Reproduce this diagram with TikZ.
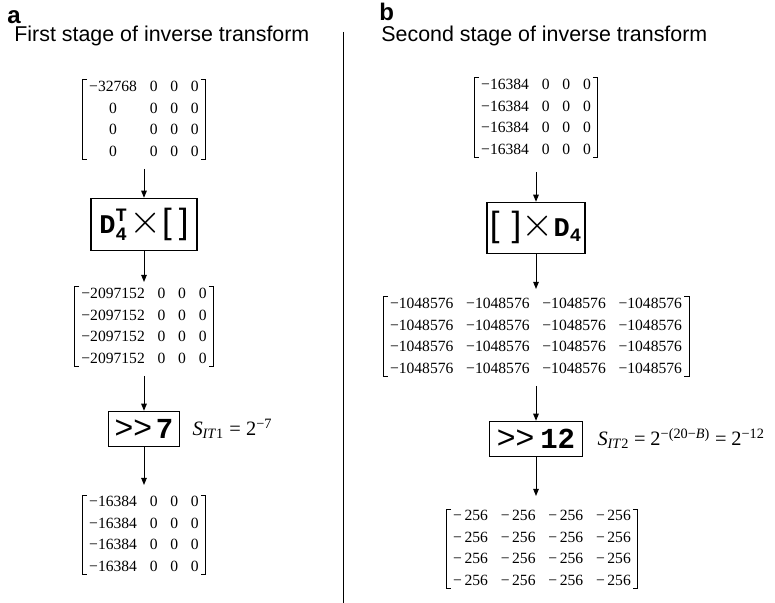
\documentclass[tikz,border=0pt]{standalone}
\usepackage{amsmath}
\usepackage{fontspec}
\setmainfont{Liberation Serif}
\setsansfont{Liberation Sans}
\setmonofont{Liberation Mono}
\usepackage{tikz}
\usetikzlibrary{positioning, arrows.meta}
\setlength{\tabcolsep}{3.2pt}
\newcommand{\mb}[1]{\text{\ttfamily\bfseries #1}}
\newcommand{\brackets}[1]{%
  \draw[brk] ([xshift=2.5pt]#1.north west) -| (#1.south west) -- ++(2.5pt,0pt);
  \draw[brk] ([xshift=-2.5pt]#1.north east) -| (#1.south east) -- ++(-2.5pt,0pt);}

\begin{document}
\begin{tikzpicture}[
    x=0.5pt, y=-0.5pt,
    mtx/.style={inner xsep=3.3pt, inner ysep=-1.75pt,
                font=\fontsize{7.8}{10.75}\selectfont},
    brk/.style={line width=0.5pt},
    opbox/.style={draw, line width=0.6pt, inner sep=0pt, align=center},
    arrow/.style={-{Triangle[length=3.6pt,width=2.8pt]}, line width=0.5pt},
    head/.style={anchor=base west, inner sep=0pt,
                 font=\sffamily\bfseries\fontsize{12}{12}\selectfont},
    title/.style={anchor=base west, inner sep=0pt,
                  font=\sffamily\fontsize{10.7}{10.7}\selectfont},
    lbl/.style={inner sep=0pt, font=\fontsize{10.2}{10.2}\selectfont},
  ]
    \useasboundingbox (0,0) rectangle (775,603);

    % panel headings
    \node[head] (ha) at (7,24) {a};
    \node[head] (hb) at (379,21) {b};
    \node[title] (ta) at (14,42) {First stage of inverse transform};
    \node[title] (tb) at (381,42) {Second stage of inverse transform};

    % divider
    \coordinate (divtop) at (343,32);
    \coordinate (divbot) at (343,603);
    \draw[line width=0.5pt] (divtop) -- (divbot);

    % first stage
    \node[mtx, anchor=north] (A1) at (144,80) {%
      \begin{tabular}{@{}cccc@{}}
        −32768 & 0 & 0 & 0\\
        0 & 0 & 0 & 0\\
        0 & 0 & 0 & 0\\
        0 & 0 & 0 & 0
      \end{tabular}};
    \node[opbox, minimum width=53pt, minimum height=26pt, below=19pt of A1] (A2)
      {{\fontsize{13.5}{13.5}\selectfont$\mb{D}^{\mb{T}}_{\mb{4}}$}\hspace{1pt}%
       {\fontsize{20}{20}\selectfont$\times$}%
       {\sffamily\fontsize{17.5}{17.5}\selectfont[\hspace{3.5pt}]}};
    \node[mtx, below=18pt of A2] (A3) {%
      \begin{tabular}{@{}cccc@{}}
        −2097152 & 0 & 0 & 0\\
        −2097152 & 0 & 0 & 0\\
        −2097152 & 0 & 0 & 0\\
        −2097152 & 0 & 0 & 0
      \end{tabular}};
    \node[opbox, minimum width=35.5pt, minimum height=17.5pt, below=22pt of A3] (A4)
      {{\sffamily\fontsize{16}{16}\selectfont >{}>}\hspace{2pt}%
       {\ttfamily\bfseries\fontsize{14.5}{14.5}\selectfont 7}};
    \node[lbl, right=6pt of A4] (SA)
      {\textit{S}\textsubscript{\textit{IT}1} = 2\textsuperscript{−7}};
    \node[mtx, below=24pt of A4] (A5) {%
      \begin{tabular}{@{}cccc@{}}
        −16384 & 0 & 0 & 0\\
        −16384 & 0 & 0 & 0\\
        −16384 & 0 & 0 & 0\\
        −16384 & 0 & 0 & 0
      \end{tabular}};

    % second stage
    \node[mtx, anchor=north] (B1) at (536,78) {%
      \begin{tabular}{@{}cccc@{}}
        −16384 & 0 & 0 & 0\\
        −16384 & 0 & 0 & 0\\
        −16384 & 0 & 0 & 0\\
        −16384 & 0 & 0 & 0
      \end{tabular}};
    \node[opbox, minimum width=49pt, minimum height=25.5pt, below=22pt of B1] (B2)
      {{\sffamily\fontsize{17.5}{17.5}\selectfont[\hspace{6pt}]}%
       {\fontsize{20}{20}\selectfont$\times$}%
       {\fontsize{13.5}{13.5}\selectfont$\mb{D}_{\mb{4}}$}};
    \node[mtx, below=21.5pt of B2] (B3) {%
      \begin{tabular}{@{}cccc@{}}
        −1048576 & −1048576 & −1048576 & −1048576\\
        −1048576 & −1048576 & −1048576 & −1048576\\
        −1048576 & −1048576 & −1048576 & −1048576\\
        −1048576 & −1048576 & −1048576 & −1048576
      \end{tabular}};
    \node[opbox, minimum width=46.5pt, minimum height=17.5pt, below=22pt of B3] (B4)
      {{\sffamily\fontsize{16}{16}\selectfont >{}>}\hspace{3pt}%
       {\ttfamily\bfseries\fontsize{14.5}{14.5}\selectfont 12}};
    \node[lbl, right=7pt of B4] (SB)
      {\textit{S}\textsubscript{\textit{IT}2}\hspace{2.4pt}=\hspace{2.4pt}2\textsuperscript{−(20−\textit{B})}\hspace{2.4pt}=\hspace{2.4pt}2\textsuperscript{−12}};
    \node[mtx, below=26pt of B4, xshift=3pt] (B5) {%
      \begin{tabular}{@{}cccc@{}}
        −\,256 & −\,256 & −\,256 & −\,256\\
        −\,256 & −\,256 & −\,256 & −\,256\\
        −\,256 & −\,256 & −\,256 & −\,256\\
        −\,256 & −\,256 & −\,256 & −\,256
      \end{tabular}};

    % matrix brackets
    \brackets{A1} \brackets{A3} \brackets{A5}
    \brackets{B1} \brackets{B3} \brackets{B5}

    % flow
    \draw[arrow, shorten <=4.5pt] (A1) -- (A2);
    \draw[arrow, shorten >=2.5pt] (A2) -- (A3);
    \draw[arrow, shorten <=4.5pt] (A3) -- (A4);
    \draw[arrow, shorten >=5pt] (A4) -- (A5);
    \draw[arrow, shorten <=7pt] (B1) -- (B2);
    \draw[arrow, shorten >=4pt] (B2) -- (B3);
    \draw[arrow, shorten <=4.5pt] (B3) -- (B4);
    \draw[arrow, shorten >=6.5pt] (B4.south) -- (B4.south |- B5.north);
\end{tikzpicture}
\end{document}
